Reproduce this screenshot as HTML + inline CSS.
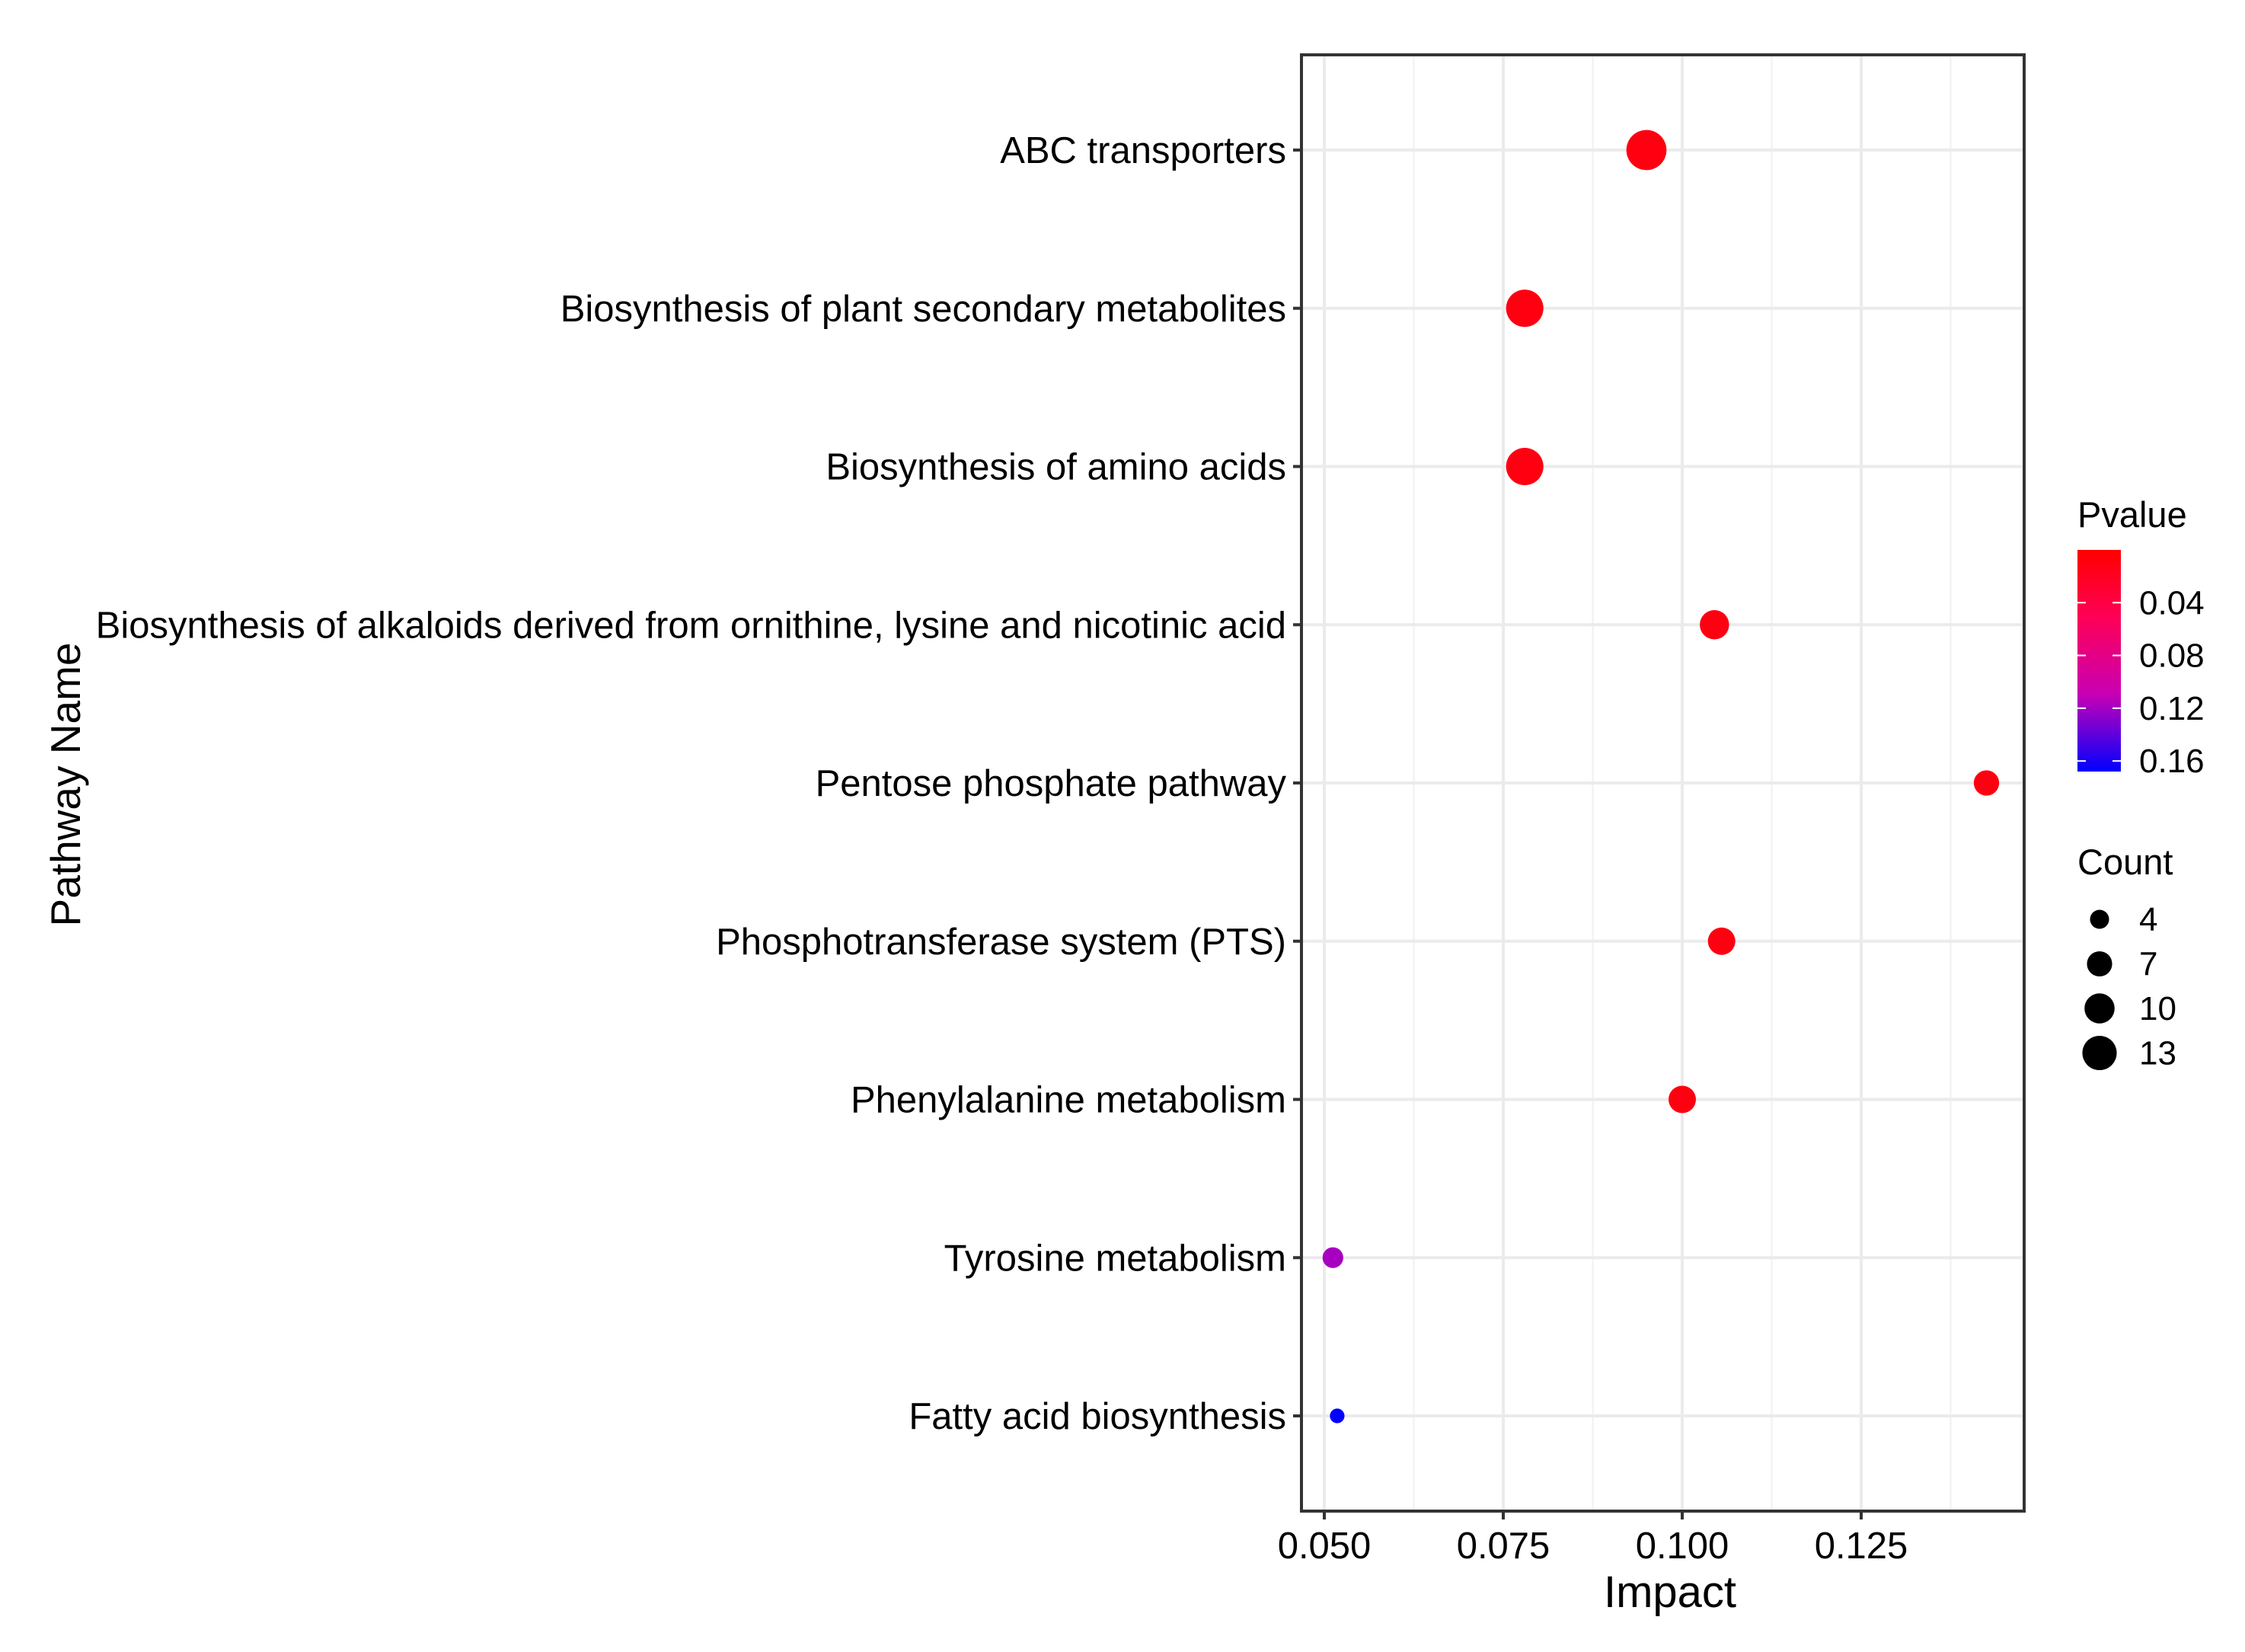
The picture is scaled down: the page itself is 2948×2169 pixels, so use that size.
<!DOCTYPE html>
<html><head><meta charset="utf-8"><style>
body{margin:0;background:#fff}
svg text{font-family:"Liberation Sans",sans-serif}
</style></head><body>
<svg id="c" width="2948" height="2164" xmlns="http://www.w3.org/2000/svg">
<defs><linearGradient id="pg" x1="0" y1="0" x2="0" y2="1">
<stop offset="0" stop-color="#FF0000"/><stop offset="0.3" stop-color="#FF0055"/><stop offset="0.65" stop-color="#C800B4"/><stop offset="1" stop-color="#0000FF"/></linearGradient></defs>
</svg>
<script>
const pathways=["ABC transporters","Biosynthesis of plant secondary metabolites","Biosynthesis of amino acids","Biosynthesis of alkaloids derived from ornithine, lysine and nicotinic acid","Pentose phosphate pathway","Phosphotransferase system (PTS)","Phenylalanine metabolism","Tyrosine metabolism","Fatty acid biosynthesis"];
const impact=[0.095,0.078,0.078,0.1045,0.1425,0.1055,0.100,0.0512,0.0518];
const counts=[15,13,13,8,6,7,7,4,2];
const pvalues=[0.01,0.01,0.01,0.01,0.01,0.01,0.01,0.12,0.17];
const xTicks=[0.050,0.075,0.100,0.125];
const xTickLabels=["0.050","0.075","0.100","0.125"];
const pTicks=[0.04,0.08,0.12,0.16];
const countTicks=[4,7,10,13];

const NS="http://www.w3.org/2000/svg",svg=document.getElementById('c');
function mk(t,a,p){const e=document.createElementNS(NS,t);for(const k in a)e.setAttribute(k,a[k]);(p||svg).appendChild(e);return e;}
const L=1709,R=2658,T=72,B=1984;
const x=v=>1739+(v-0.05)*9400;
const y=i=>197+i*207.75;
const rad=c=>6.8*Math.sqrt(c);
const LX=2728;
function pcol(p){const t=Math.min(1,Math.max(0,p/0.17));
 const stops=[[0,[255,0,0]],[0.3,[255,0,85]],[0.65,[200,0,180]],[1,[0,0,255]]];
 for(let i=1;i<stops.length;i++){if(t<=stops[i][0]){const a=stops[i-1],b=stops[i],f=(t-a[0])/(b[0]-a[0]);return 'rgb('+a[1].map((v,k)=>Math.round(v+(b[1][k]-v)*f)).join(',')+')';}}}
for(let i=0;i<xTicks.length;i++){let e=mk('line',{x1:x(xTicks[i]+0.0125),x2:x(xTicks[i]+0.0125),y1:T,y2:B,stroke:'#F0F0F0','stroke-width':2});
}
for(const v of xTicks){let e=mk('line',{x1:x(v),x2:x(v),y1:T,y2:B,stroke:'#EBEBEB','stroke-width':4});
}
pathways.forEach((p,i)=>{let e=mk('line',{x1:L,x2:R,y1:y(i),y2:y(i),stroke:'#EBEBEB','stroke-width':4});

let tk=mk('line',{x1:L-11,x2:L,y1:y(i),y2:y(i),stroke:'#333','stroke-width':4});

let t=mk('text',{x:L-20,y:y(i)+17,'font-size':49,'text-anchor':'end',fill:'#000'});t.textContent=p;
});
pathways.forEach((p,i)=>{let c=mk('circle',{cx:x(impact[i]),cy:y(i),r:rad(counts[i]),fill:pcol(pvalues[i])});
});
let fr=mk('rect',{x:L,y:T,width:R-L,height:B-T,fill:'none',stroke:'#333','stroke-width':4});

xTicks.forEach((v,i)=>{let tk=mk('line',{x1:x(v),x2:x(v),y1:B,y2:B+11,stroke:'#333','stroke-width':4});

let t=mk('text',{x:x(v),y:2046,'font-size':49,'text-anchor':'middle',fill:'#000'});t.textContent=xTickLabels[i];
});
let xt=mk('text',{x:2193,y:2110,'font-size':58,'text-anchor':'middle'});xt.textContent='Impact';

let yt=mk('text',{x:105,y:1030,'font-size':55,'text-anchor':'middle',transform:'rotate(-90 105 1030)'});yt.textContent='Pathway Name';

let pt=mk('text',{x:LX,y:692,'font-size':47});pt.textContent='Pvalue';

let cb=mk('rect',{x:LX,y:722,width:57,height:291,fill:'url(#pg)'});

const py=p=>722+p/0.168*291;
for(const p of pTicks){mk('line',{x1:LX,x2:LX+11,y1:py(p),y2:py(p),stroke:'#fff','stroke-width':2});mk('line',{x1:LX+46,x2:LX+57,y1:py(p),y2:py(p),stroke:'#fff','stroke-width':2});
let t=mk('text',{x:LX+81,y:py(p)+15,'font-size':44});t.textContent=p.toFixed(2);
}
let ct=mk('text',{x:LX,y:1148,'font-size':47});ct.textContent='Count';

countTicks.forEach((c,i)=>{const cy=1207+i*58.5;
let d=mk('circle',{cx:LX+29,cy:cy,r:rad(c)*0.92,fill:'#000'});

let t=mk('text',{x:LX+81,y:cy+15,'font-size':44});t.textContent=c;
});
</script>
</body></html>
